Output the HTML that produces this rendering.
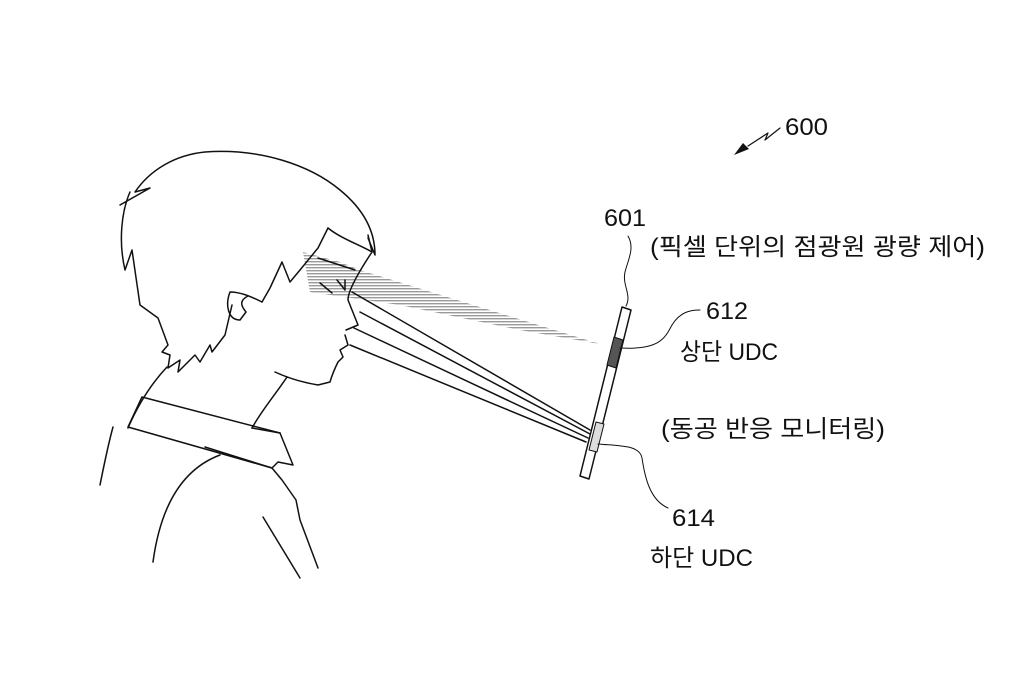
<!DOCTYPE html>
<html><head><meta charset="utf-8"><style>
html,body{margin:0;padding:0;background:#fff;width:1024px;height:680px;overflow:hidden}
svg{display:block}
text{font-family:"Liberation Sans","Noto Sans CJK KR",sans-serif;fill:#111}
</style></head><body>
<svg width="1024" height="680" viewBox="0 0 1024 680" xmlns="http://www.w3.org/2000/svg">
<defs>
<pattern id="hatch" width="3" height="3" patternUnits="userSpaceOnUse">
<rect width="3" height="3" fill="#fff"/><rect width="3" height="1.4" fill="#888"/>
</pattern>
</defs>
<g fill="none" stroke="#111" stroke-width="1.5" stroke-linejoin="round" stroke-linecap="round">
<polygon points="303,252 340,262 360,270 600,344 520,330 400,305 310,292" fill="url(#hatch)" stroke="none" opacity="0.85"/>
<path d="M120,205 L150,188 L135,192 C150,170 175,155 205,152 C260,148 310,165 340,190 C362,208 375,230 375,255 L368,238"/>
<path d="M130,192 C122,210 118,240 125,270 L132,250 L140,305 L158,318 L168,345 L162,352 L170,355 L168,368 L180,360 L178,372 L195,355 L200,362 L210,345 L212,352 L225,335 L232,305"/>
<path d="M328,228 C340,238 360,245 372,252 L368,235"/>
<path d="M328,228 L318,248 L300,270 L290,282 L282,262 L270,288 L262,302"/>
<path d="M262,302 C250,296 240,292 230,292 C225,305 228,320 240,320 L246,312 C240,305 240,300 248,296"/>
<path d="M318,258 L355,270 M320,283 L332,293 M337,280 L345,290 L345,280"/>
<path d="M372,252 C360,270 348,290 348,300 L358,325 L346,330 M345,335 L348,345 L340,350 L343,357 L338,362 C335,368 332,375 330,382 L318,385 C300,382 288,378 275,372"/>
<path d="M287,377 C275,395 262,410 252,428"/>
<path d="M167,367 C150,385 138,405 128,428"/>
<path d="M142,397 L280,433 L293,465 L278,462 L272,468 L128,427 Z"/>
<path d="M252,428 L280,433 M205,447 L272,468"/>
<path d="M113,427 C108,445 104,465 100,485"/>
<path d="M153,562 C160,510 180,470 220,455"/>
<path d="M272,468 L282,480 L296,500 L300,520 L318,568"/>
<path d="M263,517 L300,578"/>
<line x1="590" y1="430" x2="352" y2="292"/>
<line x1="590" y1="434" x2="360" y2="312"/>
<line x1="588" y1="438" x2="354" y2="328"/>
<line x1="586" y1="442" x2="350" y2="345"/>
<polygon points="622,307 631,310 589,479 580,476" fill="#fff"/>
<polygon points="614,337 623,340 616,368 607,365" fill="#555" stroke-width="1"/>
<polygon points="596,422 604,424 597,452 589,450" fill="#ddd" stroke-width="1"/>
<path d="M628,236 C635,248 628,260 625,272 C622,285 632,295 626,306" stroke-width="1"/>
<path d="M620,348 C660,350 665,338 672,325 C680,312 690,310 700,310" stroke-width="1"/>
<path d="M598,444 C620,446 640,445 642,458 C645,478 650,500 668,508" stroke-width="1"/>
<path d="M780,128 L765,140 L768,133 L748,146" stroke-width="1.2"/>
<polygon points="734,155 743,143 749,149" fill="#111" stroke="none"/>
</g>
<text x="785" y="135" font-size="24" textLength="43" lengthAdjust="spacingAndGlyphs">600</text>
<text x="604" y="226" font-size="24" textLength="42" lengthAdjust="spacingAndGlyphs">601</text>
<text x="650" y="255" font-size="24" textLength="335" lengthAdjust="spacingAndGlyphs">(픽셀 단위의 점광원 광량 제어)</text>
<text x="706" y="319" font-size="24" textLength="42" lengthAdjust="spacingAndGlyphs">612</text>
<text x="680" y="360" font-size="24" textLength="98" lengthAdjust="spacingAndGlyphs">상단 UDC</text>
<text x="661" y="437" font-size="24" textLength="224" lengthAdjust="spacingAndGlyphs">(동공 반응 모니터링)</text>
<text x="672" y="526" font-size="24" textLength="43" lengthAdjust="spacingAndGlyphs">614</text>
<text x="650" y="566" font-size="24" textLength="103" lengthAdjust="spacingAndGlyphs">하단 UDC</text>
</svg>
</body></html>
